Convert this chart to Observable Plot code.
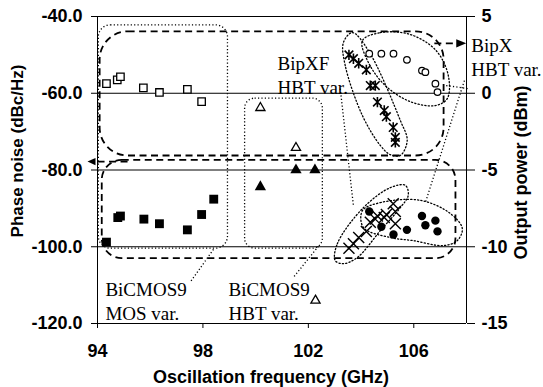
<!DOCTYPE html>
<html><head><meta charset="utf-8">
<script src="https://cdn.jsdelivr.net/npm/d3@7"></script>
<script src="https://cdn.jsdelivr.net/npm/@observablehq/plot@0.6"></script>
<style>body{margin:0;background:#fff}</style>
</head><body><div id="chart"></div>
<script>
// ---- data (frequency in GHz, phase noise in dBc/Hz, output power in dBm) ----
const mosFreq = [94.34, 94.75, 94.87, 95.74, 96.35, 97.41, 97.95];
const mosPN = [-57.5, -56.5, -55.7, -58.6, -59.8, -59.0, -62.2];
const mosPowFreq = [94.34, 94.77, 94.87, 95.76, 96.35, 97.41, 97.95, 98.41];
const mosPow = [-9.7, -8.1, -8.0, -8.2, -8.5, -8.9, -7.9, -6.9];
const hbtFreq = [100.18, 101.53, 102.27];
const hbtPN = [-63.8, -74.2, -114.0];
const hbtPowFreq = [100.18, 101.53, 102.25];
const hbtPow = [-6.1, -5.0, -5.0];
const bipxfFreq = [103.54, 103.71, 103.91, 104.20, 104.35, 104.54, 104.62, 104.88, 104.96, 105.22, 105.30, 105.30];
const bipxfPN = [-50.0, -51.0, -52.2, -53.9, -58.0, -58.0, -62.3, -64.5, -66.1, -68.9, -71.5, -72.8];
const bipxfPow = [-10.1, -9.8, -9.4, -9.0, -8.4, -8.2, -8.0, -8.1, -7.9, -7.2, -7.7, -8.5];
const bipxFreq = [104.31, 104.77, 105.23, 105.74, 106.31, 106.44, 106.82, 106.90];
const bipxPN = [-49.7, -49.7, -49.7, -51.3, -54.1, -54.5, -57.5, -59.7];
const bipxPow = [-7.7, -8.7, -9.2, -8.9, -8.0, -8.6, -8.3, -9.0];

const xTicks = [94, 98, 102, 106];
const pnTicks = [-120, -100, -80, -60, -40];
const powTicks = [-15, -10, -5, 0, 5];

const xTitle = "Oscillation frequency (GHz)";
const yTitle = "Phase noise (dBc/Hz)";
const y2Title = "Output power (dBm)";

// ---- annotations (in data units: GHz / dBc/Hz) ----
const labels = [
  {f: 100.83, pn: -49.5, text: "BipXF\nHBT var."},
  {f: 108.18, pn: -44.8, text: "BipX\nHBT var."},
  {f: 94.30, pn: -108.4, text: "BiCMOS9\nMOS var."},
  {f: 98.97, pn: -108.4, text: "BiCMOS9\nHBT var."}
];
const mosBox = [{f1: 94.05, f2: 98.95, p1: -42.3, p2: -100.5}];
const hbtBox = [{f1: 99.6, f2: 102.55, p1: -61.4, p2: -100.5}];
const pnBox = [{f1: 94.1, f2: 107.15, p1: -44.0, p2: -76.35}];
const powBox = [{f1: 94.18, f2: 107.6, p1: -77.5, p2: -103.1}];
const bipxfPNOutline = [[103.33,-46.8],[103.67,-44.2],[104.28,-48.9],[105.49,-67.1],[105.75,-72.3],[105.49,-76.2],[105.11,-76.0],[104.73,-73.6],[104.05,-65.8],[103.40,-52.8]];
const bipxPNOutline = [[104.05,-46.3],[104.73,-44.2],[105.87,-44.7],[106.85,-48.9],[107.31,-55.4],[107.27,-61.4],[106.82,-63.2],[105.87,-62.2],[104.92,-58.0],[104.28,-52.0]];
const bipxfPowOutline = [[103.02,-103.6],[103.10,-99.2],[104.09,-89.8],[105.11,-84.6],[105.68,-84.0],[105.79,-86.6],[105.49,-89.8],[104.73,-95.8],[103.86,-102.8],[103.33,-104.4]];
const bipxPowOutline = [[104.05,-90.6],[104.73,-88.5],[106.25,-87.9],[107.38,-91.3],[107.84,-95.2],[107.65,-98.4],[107.12,-99.7],[105.98,-98.4],[105.11,-97.6],[104.09,-95.0]];
const pointers = [
  {f1: 98.40, p1: -100.7, f2: 97.53, p2: -109.1},
  {f1: 102.38, p1: -99.9, f2: 101.43, p2: -108.0},
  {f1: 103.21, p1: -58.8, f2: 103.71, p2: -89.3},
  {f1: 107.23, p1: -58.0, f2: 108.07, p2: -58.8},
  {f1: 107.92, p1: -56.7, f2: 106.44, p2: -88.5}
];
const arrowLeft = {f1: 95.14, f2: 93.85, tip: 93.62, pn: -77.8};
const arrowRight = {f1: 106.78, f2: 107.65, tip: 107.99, pn: -47.0};

// ---- helpers ----
const pnOfPow = p => -40 + (p - 5) * 4;
const powOfPn = v => (v + 40) / 4 + 5;
const zipPts = (fs, vs) => fs.map((f, i) => ({f, v: vs[i]}));

const starSym = {draw(c) { const s = 4.3, t = 5.2;
  c.moveTo(-s, -s); c.lineTo(s, s); c.moveTo(-s, s); c.lineTo(s, -s); c.moveTo(0, -t); c.lineTo(0, t); }};
const crossSym = {draw(c) { const s = 5.5;
  c.moveTo(-s, -s); c.lineTo(s, s); c.moveTo(-s, s); c.lineTo(s, -s); }};
const headRight = {draw(c) { c.moveTo(0, 0); c.lineTo(-10, -4.2); c.lineTo(-10, 4.2); c.closePath(); }};
const headLeft = {draw(c) { c.moveTo(0, 0); c.lineTo(8, -3.6); c.lineTo(8, 3.6); c.closePath(); }};

const dotted = {fill: "none", stroke: "black", strokeWidth: 1.3, strokeDasharray: "1.2,2.2"};
const dashed = {fill: "none", stroke: "black", strokeWidth: 1.8, strokeDasharray: "7,4.5"};
const serif = {fontFamily: "'Liberation Serif', 'Times New Roman', serif", fontSize: 19, fontWeight: "normal"};

const outline = pts => Plot.line(pts, {x: d => d[0], y: d => d[1], curve: "catmull-rom-closed", ...dotted});

const chart = Plot.plot({
  width: 543, height: 387,
  marginLeft: 97, marginRight: 77, marginTop: 16, marginBottom: 64,
  x: {domain: [94, 108], axis: null},
  y: {domain: [-120, -40], axis: null},
  style: {fontFamily: "'Liberation Sans', Arial, sans-serif", fontWeight: "bold", fontSize: "18px", background: "white", color: "black", overflow: "visible"},
  marks: [
    Plot.ruleY(pnTicks, {stroke: "black", strokeWidth: 1}),
    Plot.ruleX([94, 108], {stroke: "black", strokeWidth: 1}),
    Plot.axisX({ticks: xTicks, tickSize: 5, tickPadding: 16, tickFormat: d => String(d), label: null, fontSize: 18, fontWeight: "bold"}),
    Plot.axisY({anchor: "left", ticks: pnTicks, tickSize: 6, tickPadding: 9, tickFormat: d => d.toFixed(1), label: null, fontSize: 18, fontWeight: "bold"}),
    Plot.axisY({anchor: "right", ticks: powTicks.map(pnOfPow), tickSize: 8, tickPadding: 7, tickFormat: d => String(powOfPn(d)), label: null, fontSize: 18, fontWeight: "bold"}),

    // group boxes
    Plot.rect(mosBox, {x1: "f1", x2: "f2", y1: "p1", y2: "p2", rx: 12, ry: 12, ...dotted}),
    Plot.rect(hbtBox, {x1: "f1", x2: "f2", y1: "p1", y2: "p2", rx: 10, ry: 10, ...dotted}),
    Plot.rect(pnBox, {x1: "f1", x2: "f2", y1: "p1", y2: "p2", rx: 28, ry: 28, ...dashed}),
    Plot.rect(powBox, {x1: "f1", x2: "f2", y1: "p1", y2: "p2", rx: 20, ry: 20, ...dashed}),
    outline(bipxfPNOutline),
    outline(bipxPNOutline),
    outline(bipxfPowOutline),
    outline(bipxPowOutline),
    Plot.link(pointers, {x1: "f1", y1: "p1", x2: "f2", y2: "p2", ...dotted}),

    // arrows
    Plot.link([arrowLeft, arrowRight], {x1: "f1", x2: "f2", y1: "pn", y2: "pn", ...dashed}),
    Plot.dot([arrowLeft], {x: "tip", y: "pn", symbol: headLeft, fill: "black", stroke: "none"}),
    Plot.dot([arrowRight], {x: "tip", y: "pn", symbol: headRight, fill: "black", stroke: "none"}),

    // data points
    Plot.dot(zipPts(mosFreq, mosPN), {x: "f", y: "v", symbol: "square", r: 4.2, fill: "white", stroke: "black", strokeWidth: 1.3}),
    Plot.dot(zipPts(mosPowFreq, mosPow), {x: "f", y: d => pnOfPow(d.v), symbol: "square", r: 5, fill: "black", stroke: "none"}),
    Plot.dot(zipPts(hbtFreq, hbtPN), {x: "f", y: "v", symbol: "triangle", r: 3.4, fill: "white", stroke: "black", strokeWidth: 1.3}),
    Plot.dot(zipPts(hbtPowFreq, hbtPow), {x: "f", y: d => pnOfPow(d.v), symbol: "triangle", r: 4.2, fill: "black", stroke: "none"}),
    Plot.dot(zipPts(bipxfFreq, bipxfPN), {x: "f", y: "v", symbol: starSym, fill: "none", stroke: "black", strokeWidth: 1.6}),
    Plot.dot(zipPts(bipxfFreq, bipxfPow), {x: "f", y: d => pnOfPow(d.v), symbol: crossSym, fill: "none", stroke: "black", strokeWidth: 1.4}),
    Plot.dot(zipPts(bipxFreq, bipxPN), {x: "f", y: "v", r: 3.3, fill: "white", stroke: "black", strokeWidth: 1.2}),
    Plot.dot(zipPts(bipxFreq, bipxPow), {x: "f", y: d => pnOfPow(d.v), r: 4.2, fill: "black", stroke: "none"}),

    // labels
    Plot.text(labels, {x: "f", y: "pn", text: "text", textAnchor: "start", lineAnchor: "top", lineHeight: 1.27, ...serif}),

    // axis titles
    Plot.text([xTitle], {text: d => d, frameAnchor: "bottom", textAnchor: "middle", lineAnchor: "middle", dx: -11, dy: 53.5, fontSize: 18, fontWeight: "bold"}),
    Plot.text([yTitle], {text: d => d, frameAnchor: "left", textAnchor: "middle", lineAnchor: "middle", rotate: -90, dx: -80, dy: -19, fontSize: 17, fontWeight: "bold"}),
    Plot.text([y2Title], {text: d => d, frameAnchor: "right", textAnchor: "middle", lineAnchor: "middle", rotate: -90, dx: 55, dy: 2.5, fontSize: 18, fontWeight: "bold"})
  ]
});
document.getElementById("chart").appendChild(chart);
</script>
</body></html>
